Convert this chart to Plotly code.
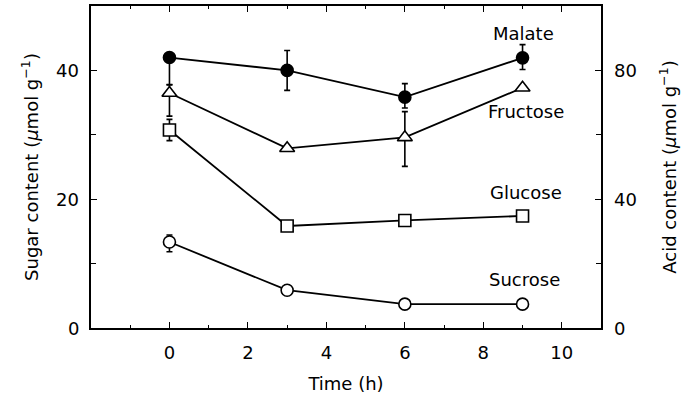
import plotly.graph_objects as go

time_h = [0, 3, 6, 9]

malate = [84.0, 80.0, 71.7, 83.9]          # acid axis
malate_err_plus = [1.0, 6.2, 4.2, 4.1]
malate_err_minus = [8.5, 6.2, 3.4, 3.6]

fructose = [36.5, 27.9, 29.6, 37.3]
fructose_err_plus = [1.3, 0.0, 4.0, 0.0]
fructose_err_minus = [3.6, 0.0, 4.5, 0.0]

glucose = [30.75, 15.84, 16.7, 17.4]
glucose_err_plus = [1.65, 0.0, 0.0, 0.0]
glucose_err_minus = [1.65, 0.0, 0.0, 0.0]

sucrose = [13.35, 5.87, 3.7, 3.7]
sucrose_err_plus = [1.1, 0.0, 0.0, 0.0]
sucrose_err_minus = [1.5, 0.0, 0.0, 0.0]

labels = ["Malate", "Fructose", "Glucose", "Sucrose"]
label_x = [9.02, 9.1, 9.1, 9.05]
label_y = [45.7, 33.6, 21.1, 7.5]

x_ticks = [0, 2, 4, 6, 8, 10]
sugar_ticks = [0, 20, 40]
acid_ticks = [0, 40, 80]

FONT = "DejaVu Sans"
BLACK = "black"

fig = go.Figure()


def add_series(y, ep, em, symbol, filled, yaxis):
    # error bars first (drawn underneath the markers)
    fig.add_trace(go.Scatter(
        x=time_h, y=y, mode="markers", yaxis=yaxis,
        marker=dict(size=1, color="rgba(0,0,0,0)"),
        error_y=dict(type="data", symmetric=False, array=ep, arrayminus=em,
                     color=BLACK, thickness=1.6, width=3),
        showlegend=False, hoverinfo="skip"))
    fig.add_trace(go.Scatter(
        x=time_h, y=y, mode="lines+markers", yaxis=yaxis,
        line=dict(color=BLACK, width=1.8),
        marker=dict(symbol=symbol, size=13 if symbol == "triangle-up" else 12,
                    color=BLACK if filled else "white",
                    line=dict(color=BLACK, width=1.6)),
        showlegend=False))


add_series(sucrose, sucrose_err_plus, sucrose_err_minus, "circle", False, "y")
add_series(glucose, glucose_err_plus, glucose_err_minus, "square", False, "y")
add_series(fructose, fructose_err_plus, fructose_err_minus, "triangle-up", False, "y")
add_series(malate, malate_err_plus, malate_err_minus, "circle", True, "y2")

for t, xx, yy in zip(labels, label_x, label_y):
    fig.add_annotation(x=xx, y=yy, xref="x", yref="y", text=t, showarrow=False,
                       font=dict(family=FONT, size=18, color=BLACK))

# y tick labels (placed through the axes' own scales)
for v in sugar_ticks:
    fig.add_annotation(x=0, xref="paper", y=v, yref="y", text=str(v),
                       showarrow=False, xanchor="right", yanchor="middle",
                       xshift=-10, font=dict(family=FONT, size=18, color=BLACK))
for v in acid_ticks:
    fig.add_annotation(x=1, xref="paper", y=v, yref="y2", text=str(v),
                       showarrow=False, xanchor="left", yanchor="middle",
                       xshift=11, font=dict(family=FONT, size=18, color=BLACK))

axis_font = dict(family=FONT, size=18, color=BLACK)

fig.update_layout(
    width=691, height=394,
    margin=dict(l=91, r=90, t=6, b=66, autoexpand=False),
    paper_bgcolor="white", plot_bgcolor="white",
    font=axis_font,
    xaxis=dict(range=[-2, 11], tickvals=x_ticks, ticks="inside",
               ticklen=6, tickwidth=1.2, tickcolor=BLACK, ticklabelstandoff=7,
               automargin=False,
               minor=dict(tickvals=[-1, 1, 3, 5, 7, 9], ticks="inside", ticklen=3,
                          tickwidth=1, tickcolor=BLACK),
               showline=True, linecolor=BLACK, linewidth=2, mirror="ticks",
               showgrid=False, zeroline=False,
               title=dict(text="Time (h)", font=axis_font, standoff=25),
               tickfont=axis_font),
    yaxis=dict(range=[0, 50], tickvals=sugar_ticks, ticks="inside", ticklen=6,
               tickwidth=1.2, tickcolor=BLACK, showticklabels=False,
               automargin=False,
               minor=dict(tickvals=[10, 30], ticks="inside", ticklen=5,
                          tickwidth=1, tickcolor=BLACK),
               showline=True, linecolor=BLACK, linewidth=2,
               showgrid=False, zeroline=False,
               title=dict(text="Sugar content (<i>μ</i>mol g<sup>−1</sup>)",
                          font=axis_font, standoff=46)),
    yaxis2=dict(range=[0, 100], tickvals=acid_ticks, overlaying="y", side="right",
                ticks="inside", ticklen=6, tickwidth=1.2, tickcolor=BLACK,
                showticklabels=False, automargin=False,
                minor=dict(tickvals=[20, 60], ticks="inside", ticklen=5,
                           tickwidth=1, tickcolor=BLACK),
                showline=True, linecolor=BLACK, linewidth=2,
                showgrid=False, zeroline=False,
                title=dict(text="Acid content (<i>μ</i>mol g<sup>−1</sup>)",
                           font=axis_font, standoff=61)),
)

fig.write_html("out.html")
